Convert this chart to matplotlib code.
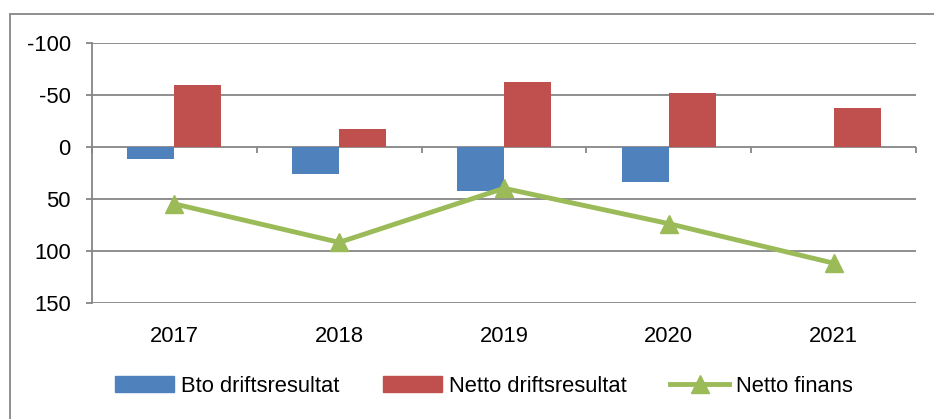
import matplotlib.pyplot as plt
import matplotlib.patches as mpatches
import numpy as np

# ===================== 数据 =====================
YEARS = ['2017', '2018', '2019', '2020', '2021']
BTO_DRIFT = [12, 26, 43, 34, 0]
NETTO_DRIFT = [-59, -17, -62, -52, -37]
NETTO_FINANS = [55, 92, 40, 74, 112]
Y_TICKS = [-100, -50, 0, 50, 100, 150]

BLUE = '#4F81BD'
RED = '#C0504D'
GREEN = '#9BBB59'
GRID = '#868686'

plt.rcParams['font.family'] = ['Liberation Sans', 'DejaVu Sans']
FS = 15.8

fig = plt.figure(figsize=(9.34, 4.19), dpi=100)

# 外框（超出右侧和底部）
fig.patches.append(mpatches.Rectangle((9.5 / 934, -0.2), 1.2, 1.2 - 13.5 / 419,
                                      transform=fig.transFigure, fill=False,
                                      edgecolor=GRID, lw=1.3))

ax = fig.add_axes([92 / 934, 1 - 302.7 / 419, (916 - 92) / 934, (302.7 - 42.7) / 419])

x = np.arange(len(YEARS))
w = 1 / 3.5
ax.bar(x - w / 2, BTO_DRIFT, w, color=BLUE, zorder=2)
ax.bar(x + w / 2, NETTO_DRIFT, w, color=RED, zorder=2)
ax.plot(x, NETTO_FINANS, color=GREEN, lw=3.5, marker='^', markersize=13,
        zorder=3, label='Netto finans')

ax.set_xlim(-0.5, len(YEARS) - 0.5)
ax.set_ylim(150, -100)
ax.set_yticks(Y_TICKS)
ax.set_yticklabels([str(v) for v in Y_TICKS])
ax.yaxis.grid(True, color=GRID, lw=1.3, zorder=0)
ax.set_axisbelow(True)

ax.set_xticks(x)
ax.set_xticklabels(YEARS)
ax.tick_params(axis='x', length=0, pad=17, labelsize=FS)
ax.tick_params(axis='y', length=4.3, width=1.3, color=GRID, pad=11, labelsize=FS)

for s in ['top', 'right', 'bottom']:
    ax.spines[s].set_visible(False)
ax.spines['left'].set_color(GRID)
ax.spines['left'].set_linewidth(1.3)

# 0 轴上的类别分隔刻度
sec = ax.secondary_xaxis(150 / 250)
sec.set_xticks(np.arange(-0.5, len(YEARS), 1.0))
sec.tick_params(direction='in', length=4.3, width=1.3, color=GRID, labelbottom=False,
                labeltop=False)
sec.spines['bottom'].set_visible(False)
sec.spines['top'].set_visible(False)

# 图例
handles = [mpatches.Patch(color=BLUE, label='Bto driftsresultat'),
           mpatches.Patch(color=RED, label='Netto driftsresultat'),
           ax.lines[0]]
fig.legend(handles=handles, loc='center', bbox_to_anchor=(0.518, 1 - 386 / 419),
           ncol=3, frameon=False, fontsize=FS, handlelength=2.7, handleheight=0.7,
           handletextpad=0.3, columnspacing=2.0)

plt.savefig('out.png', dpi=100)
plt.close()
